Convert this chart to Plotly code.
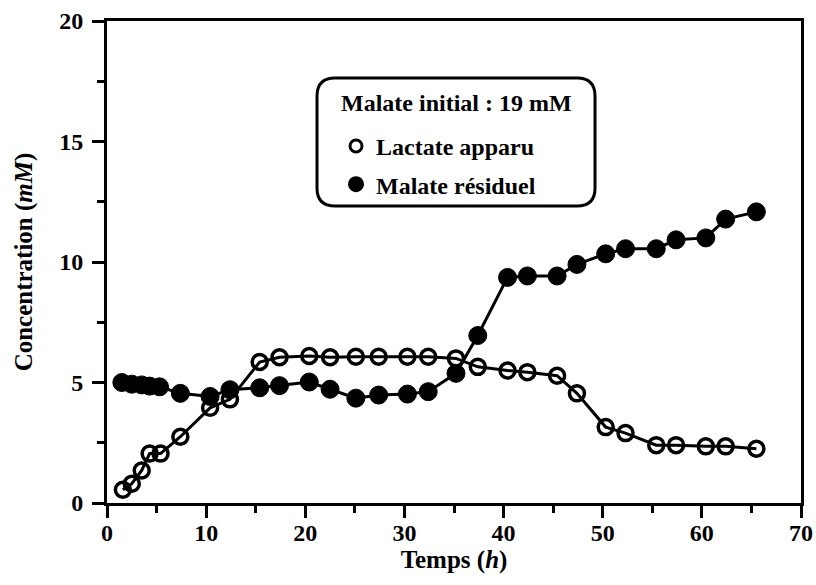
import plotly.graph_objects as go

# time (h) and concentrations (mM)
t_lactate = [1.6, 2.5, 3.5, 4.3, 5.4, 7.4, 10.4, 12.4, 15.4, 17.4, 20.4, 22.5, 25.1, 27.4, 30.3,
             32.4, 35.2, 37.4, 40.4, 42.4, 45.4, 47.4, 50.3, 52.3, 55.4, 57.4, 60.4, 62.4, 65.5]
lactate = [0.55, 0.8, 1.35, 2.05, 2.05, 2.75, 3.95, 4.3, 5.85, 6.05, 6.1, 6.05, 6.07, 6.07, 6.07,
           6.07, 6.0, 5.65, 5.5, 5.43, 5.28, 4.55, 3.15, 2.9, 2.4, 2.4, 2.35, 2.35, 2.25]

t_malate = [1.5, 2.5, 3.5, 4.3, 5.3, 7.4, 10.4, 12.4, 15.4, 17.4, 20.4, 22.5, 25.1, 27.4, 30.3,
            32.4, 35.2, 37.4, 40.4, 42.4, 45.4, 47.4, 50.3, 52.3, 55.4, 57.4, 60.4, 62.4, 65.5]
malate = [5.0, 4.93, 4.9, 4.85, 4.82, 4.55, 4.42, 4.7, 4.78, 4.87, 5.02, 4.72, 4.35, 4.48, 4.52,
          4.62, 5.38, 6.95, 9.36, 9.42, 9.42, 9.9, 10.34, 10.55, 10.55, 10.92, 11.0, 11.78, 12.08]

x_ticks = [0, 10, 20, 30, 40, 50, 60, 70]
y_ticks = [0, 5, 10, 15, 20]

serif = "Liberation Serif"

fig = go.Figure()

fig.add_trace(go.Scatter(
    x=t_malate, y=malate, mode="lines+markers", showlegend=False,
    line=dict(color="black", width=3),
    marker=dict(symbol="circle", size=18, color="black", line=dict(color="black", width=1))
))
fig.add_trace(go.Scatter(
    x=t_lactate, y=lactate, mode="lines+markers", showlegend=False,
    line=dict(color="black", width=3),
    marker=dict(symbol="circle-open", size=15, color="black", line=dict(width=3.5))
))

# legend-only entries (markers without the connecting line)
fig.add_trace(go.Scatter(
    x=[None], y=[None], mode="markers", name="Lactate apparu", legendgroup="a",
    marker=dict(symbol="circle-open", size=12, color="black", line=dict(width=3))
))
fig.add_trace(go.Scatter(
    x=[None], y=[None], mode="markers", name="Malate résiduel", legendgroup="b",
    marker=dict(symbol="circle", size=16, color="black")
))

# rounded box around the legend, in paper coords
x0, x1, y0, y1 = 0.3026, 0.7032, 0.616, 0.8817
rx, ry = 18 / 694, 18 / 482
path = (f"M {x0+rx},{y1} L {x1-rx},{y1} Q {x1},{y1} {x1},{y1-ry} "
        f"L {x1},{y0+ry} Q {x1},{y0} {x1-rx},{y0} "
        f"L {x0+rx},{y0} Q {x0},{y0} {x0},{y0+ry} "
        f"L {x0},{y1-ry} Q {x0},{y1} {x0+rx},{y1} Z")
fig.add_shape(type="path", path=path, xref="paper", yref="paper",
              line=dict(color="black", width=3), fillcolor="rgba(0,0,0,0)")

fig.add_annotation(text="Malate initial : 19 mM", xref="paper", yref="paper",
                   x=0.503, y=0.83, xanchor="center", yanchor="middle", showarrow=False,
                   font=dict(family=serif, size=24, color="black", weight="bold"))

axis_common = dict(
    showgrid=False, zeroline=False, showline=True, linecolor="black", linewidth=3,
    mirror=True, ticks="outside", tickwidth=3, ticklen=12, tickcolor="black",
    automargin=False,
    tickfont=dict(family=serif, size=24, color="black", weight="bold"),
)

fig.update_layout(
    width=816, height=585,
    margin=dict(l=107, r=15, t=21, b=82),
    paper_bgcolor="white", plot_bgcolor="white",
    font=dict(family=serif, color="black"),
    xaxis=dict(range=[0, 70], tickvals=x_ticks, ticklabelstandoff=-6,
               minor=dict(dtick=5, ticks="outside", ticklen=7, tickwidth=3, tickcolor="black"),
               title=dict(text="Temps (<i>h</i>)", font=dict(family=serif, size=25, weight="bold"),
                          standoff=0),
               **axis_common),
    yaxis=dict(range=[0, 20], tickvals=y_ticks, ticklabelstandoff=4,
               minor=dict(dtick=2.5, ticks="outside", ticklen=7, tickwidth=3, tickcolor="black"),
               title=dict(text="Concentration (<i>mM</i>)", font=dict(family=serif, size=25, weight="bold"),
                          standoff=20),
               **axis_common),
    legend=dict(
        x=0.330, y=0.7865, xanchor="left", yanchor="top",
        bgcolor="rgba(0,0,0,0)", borderwidth=0,
        font=dict(family=serif, size=24, color="black", weight="bold"),
        itemwidth=30, tracegroupgap=4,
    ),
)

# drop the default page margin so the 816x585 figure fills the window exactly
fig.write_html("out.html", config={"displayModeBar": False},
               post_script="document.body.style.margin='0';")
